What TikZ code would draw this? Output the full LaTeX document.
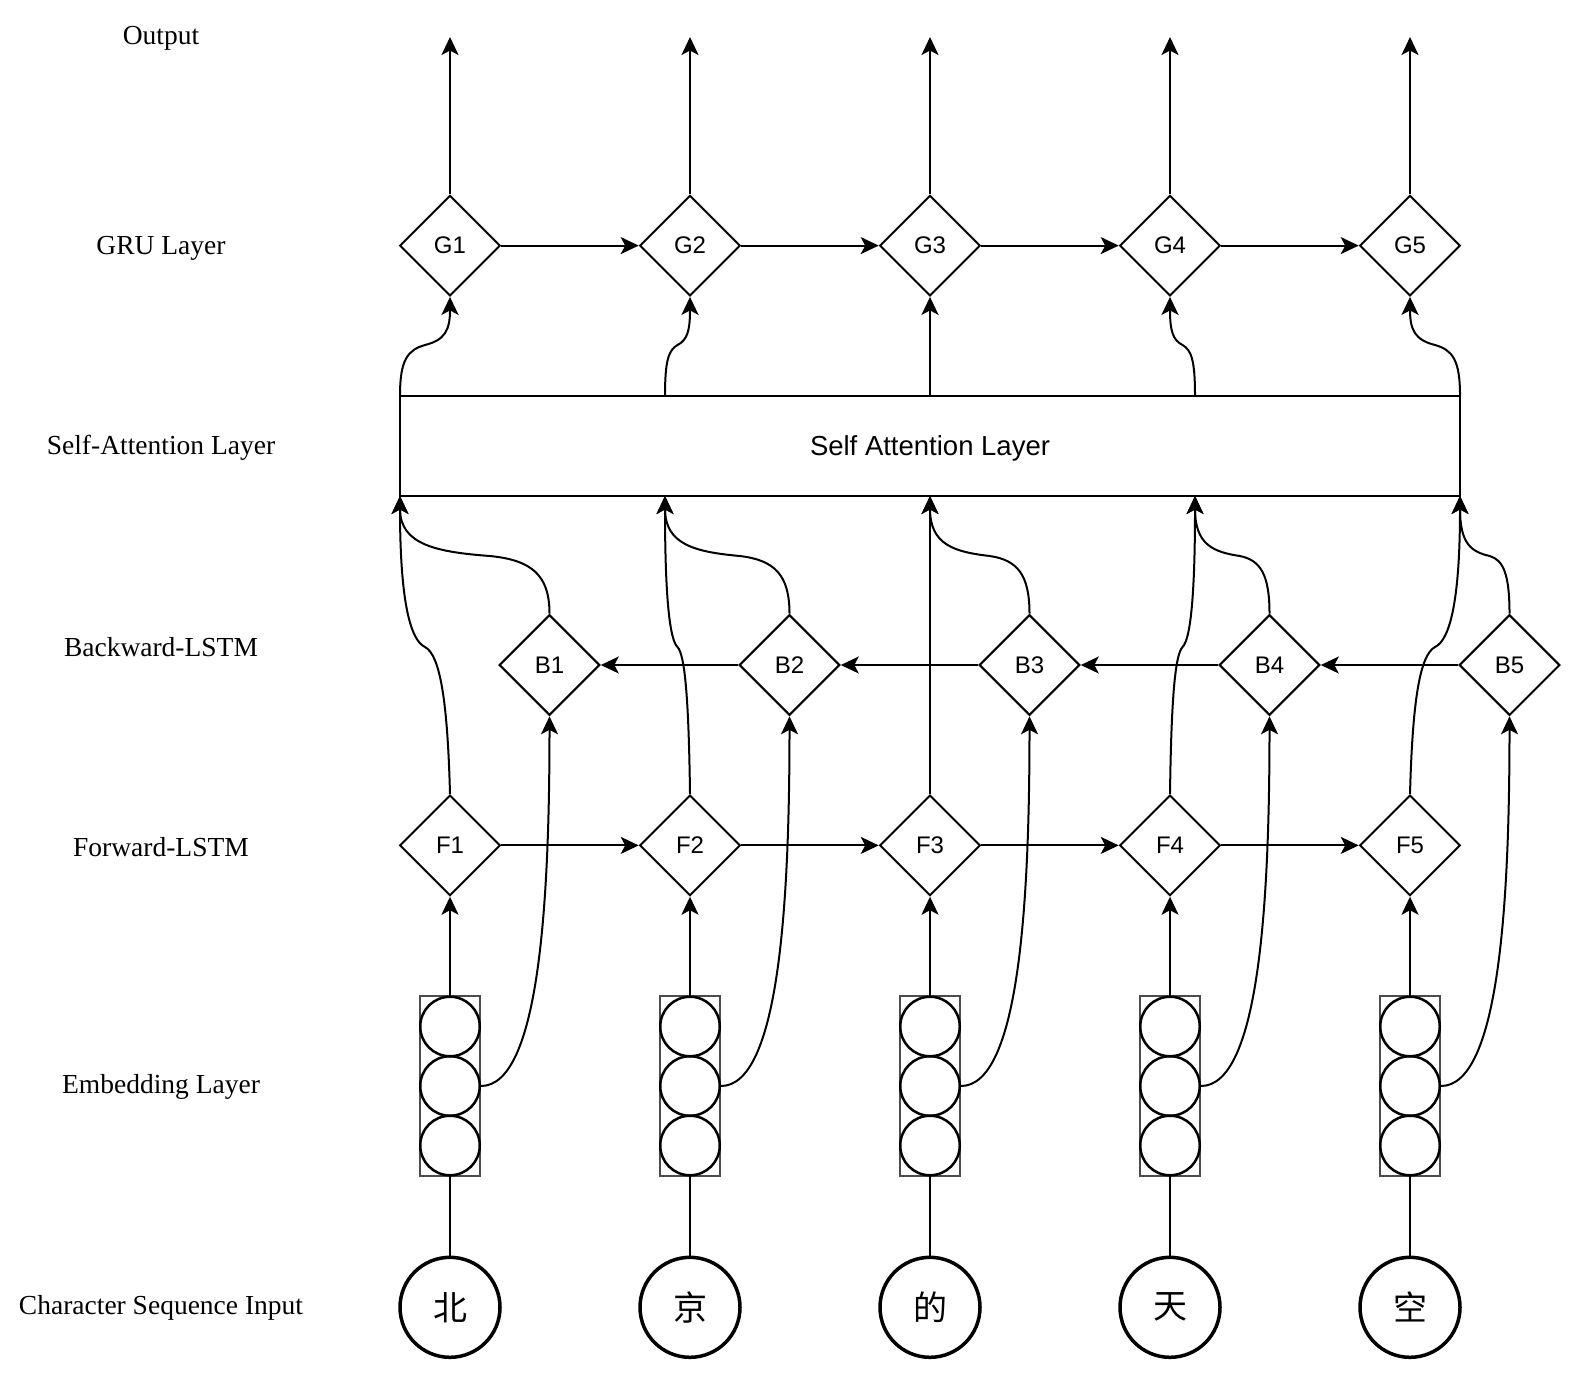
\documentclass[tikz,border=0pt]{standalone}
\usepackage{fontspec}
\setmainfont{Liberation Serif}
\newfontfamily\sansf{Liberation Sans}
\newfontfamily\cjkf{Noto Sans CJK SC}
\usetikzlibrary{shapes.geometric,arrows.meta,calc}
\begin{document}
\begin{tikzpicture}[x=1pt,y=-1pt,
  conn/.style={line width=2pt, -{Stealth[length=18pt,width=17pt,inset=4.5pt]}},
  plain/.style={line width=2pt},
  dia/.style={diamond, draw, line width=2pt, aspect=1, minimum size=100.6pt, inner sep=0pt, font=\sansf\fontsize{24}{28}\selectfont},
  chr/.style={circle, draw, line width=3.5pt, minimum size=100pt, inner sep=0pt, font=\cjkf\fontsize{34}{40}\selectfont},
  lbl/.style={font=\fontsize{27.5}{33}\selectfont, anchor=center},
  embc/.style={circle, draw, line width=2.5pt, minimum size=59.5pt, inner sep=0pt},
  embb/.style={draw=black!70, line width=2.5pt, minimum width=60pt, minimum height=180pt, inner sep=0pt, outer sep=0pt},
  sabox/.style={draw, line width=2pt, minimum width=1060pt, minimum height=100.5pt, inner sep=0pt, outer sep=0pt},
  satxt/.style={font=\sansf\fontsize{27.5}{33}\selectfont, inner sep=0pt}
]
\useasboundingbox (0,0) rectangle (1578,1375);
% row labels
\node[lbl] (l1) at (161,38.5) {Output};
\node[lbl] (l2) at (161,248.6) {GRU Layer};
\node[lbl] (l3) at (161,447.8) {Self-Attention Layer};
\node[lbl] (l4) at (161,647.5) {Backward-LSTM};
\node[lbl] (l5) at (161,847.4) {Forward-LSTM};
\node[lbl] (l6) at (161,1087) {Embedding Layer};
\node[lbl] (l7) at (161,1308.3) {Character Sequence Input};
% self attention box
\node[sabox] (sa) at (930,445.75) {};
\node[satxt] (satext) at (930,448.5) {Self Attention Layer};
\foreach \k/\t in {1/0,2/0.25,3/0.5,4/0.75,5/1} {
  \coordinate (sb\k) at ($(sa.south west)!\t!(sa.south east)$);
  \coordinate (st\k) at ($(sa.north west)!\t!(sa.north east)$);
}
% columns
\foreach \i/\cx/\ch in {1/450/北,2/690/京,3/930/的,4/1170/天,5/1410/空} {
  \node[chr] (c\i) at (\cx,1307.3) {\ch};
  \node[embb] (eb\i) at (\cx,1086) {};
  \node[embc] (ea\i) at (\cx,1026.5) {};
  \node[embc] (em\i) at (\cx,1086) {};
  \node[embc] (ez\i) at (\cx,1145.5) {};
  \node[dia] (f\i) at (\cx,845.4) {F\i};
  \node[dia] (b\i) at (\cx+99.5,665) {B\i};
  \node[dia] (g\i) at (\cx,245.6) {G\i};
  \coordinate (o\i) at (\cx,37);
}
% straight connectors
\foreach \i in {1,...,5} {
  \draw[plain] (c\i.north) -- (eb\i.south);
  \draw[conn] (eb\i.north) -- (f\i.south);
  \draw[conn] (g\i.north) -- (o\i);
}
\foreach \i/\j in {1/2,2/3,3/4,4/5} {
  \draw[conn] (f\i.east) -- (f\j.west);
  \draw[conn] (g\i.east) -- (g\j.west);
  \draw[conn] (b\j.west) -- (b\i.east);
}
% forward LSTM -> self attention
\foreach \i/\cx/\tx in {1/450/400,2/690/665,3/930/930,4/1170/1195,5/1410/1460} {
  \pgfmathsetmacro\myDx{\tx-\cx}
  \pgfmathsetmacro\myAx{\cx+0.05*\myDx}
  \pgfmathsetmacro\myBx{\cx+0.2*\myDx}
  \pgfmathsetmacro\myMx{\cx+0.5*\myDx}
  \pgfmathsetmacro\myPx{\cx+0.8*\myDx}
  \draw[conn] (f\i.north) .. controls (\myAx,700) and (\myBx,655) .. (\myMx,647)
     .. controls (\myPx,640) and (\tx,600) .. (sb\i);
}
% backward LSTM -> self attention
\foreach \i/\bx/\tx in {1/549.5/400,2/789.5/665,3/1029.5/930,4/1269.5/1195,5/1509.5/1460} {
  \pgfmathsetmacro\myDx{\tx-\bx}
  \pgfmathsetmacro\myBx{\bx+0.12*\myDx}
  \pgfmathsetmacro\myMx{\bx+0.4*\myDx}
  \pgfmathsetmacro\myPx{\bx+0.75*\myDx}
  \draw[conn] (b\i.north) .. controls (\bx,575) and (\myBx,560) .. (\myMx,556)
     .. controls (\myPx,552) and (\tx,545) .. (sb\i);
}
% self attention -> GRU
\foreach \i/\sx/\cx in {1/400/450,2/665/690,3/930/930,4/1195/1170,5/1460/1410} {
  \pgfmathsetmacro\myDx{\cx-\sx}
  \pgfmathsetmacro\myBx{\sx+0.15*\myDx}
  \pgfmathsetmacro\myMx{\sx+0.5*\myDx}
  \pgfmathsetmacro\myPx{\sx+0.9*\myDx}
  \draw[conn] (st\i) .. controls (\sx,360) and (\myBx,350) .. (\myMx,345)
     .. controls (\myPx,340) and (\cx,330) .. (g\i.south);
}
% embedding -> backward LSTM
\foreach \i/\bx in {1/549.5,2/789.5,3/1029.5,4/1269.5,5/1509.5} {
  \pgfmathsetmacro\myAx{\bx-10}
  \draw[conn] (em\i.east) .. controls (\myAx,1086) and (\bx,900) .. (b\i.south);
}
\end{tikzpicture}
\end{document}
